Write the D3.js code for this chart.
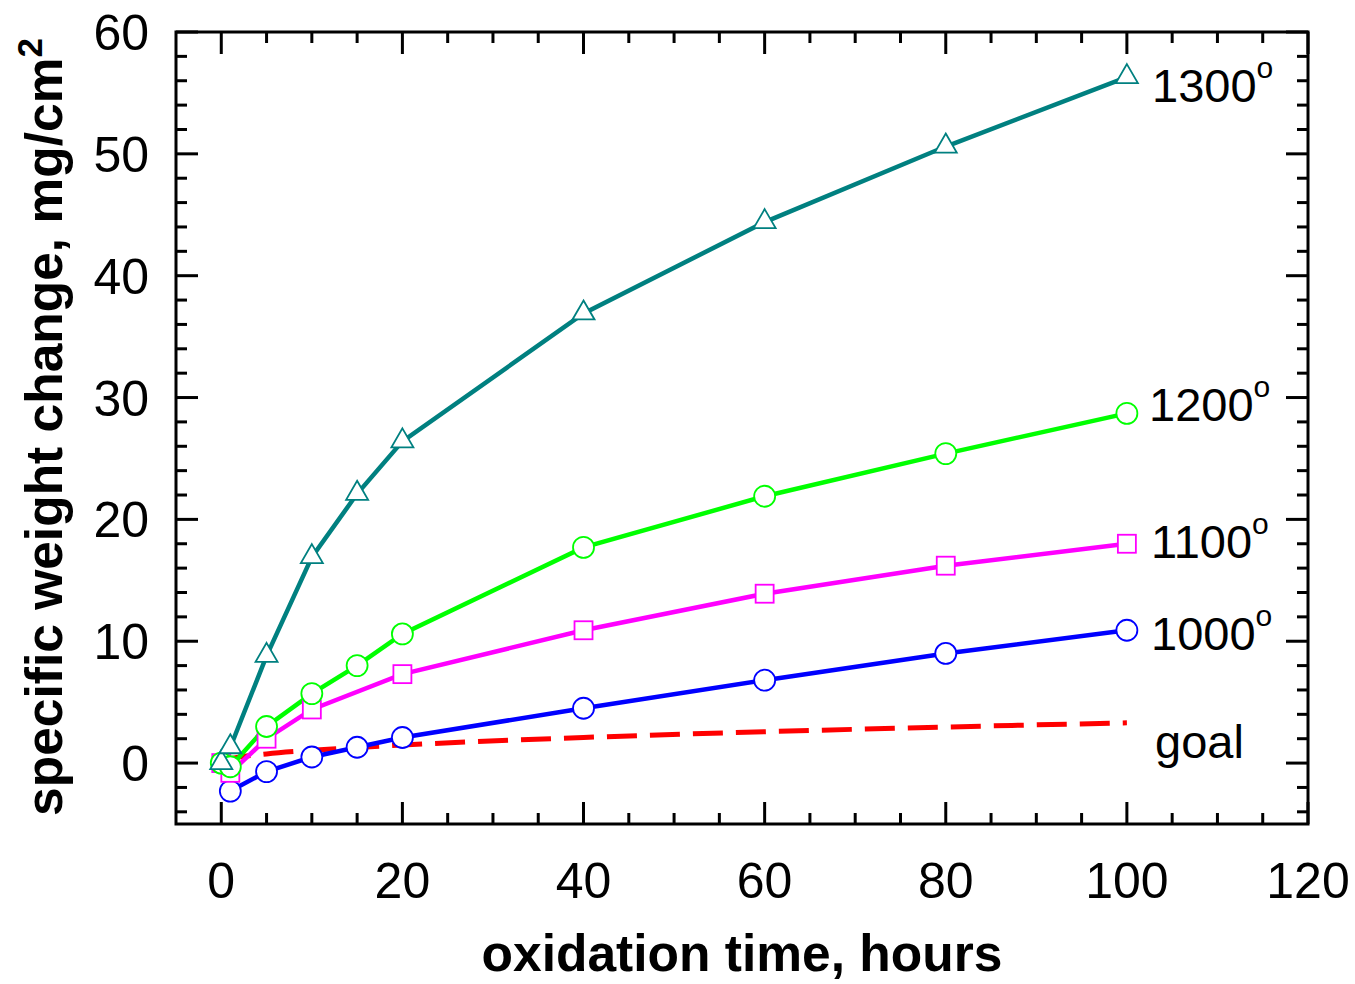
<!DOCTYPE html>
<html><head><meta charset="utf-8">
<script src="https://cdn.jsdelivr.net/npm/d3@7"></script>
<style>body{margin:0;background:#fff}svg{display:block}text{font-family:"Liberation Sans",Arial,sans-serif}</style>
</head><body>
<script>
const xTicks = [0,20,40,60,80,100,120];
const yTicks = [0,10,20,30,40,50,60];
const t1300 = [0,1,5,10,15,20,40,60,80,100];
const v1300 = [0,1.3,8.8,16.9,22.1,26.4,36.9,44.4,50.6,56.3];
const t1200 = [0,1,5,10,15,20,40,60,80,100];
const v1200 = [0,-0.3,3.0,5.7,8.0,10.6,17.7,21.9,25.4,28.7];
const t1100 = [0,1,5,10,20,40,60,80,100];
const v1100 = [0,-0.8,2.0,4.4,7.3,10.9,13.9,16.2,18.0];
const t1000 = [1,5,10,15,20,40,60,80,100];
const v1000 = [-2.3,-0.7,0.5,1.3,2.1,4.5,6.8,9.0,10.9];
const tGoal = [0,1,5,10,15,20,40,60,80,100];
const vGoal = [0.1,0.35,0.75,1.05,1.28,1.48,2.1,2.57,2.96,3.3];
const labelNames = ["1300","1200","1100","1000"];

const W=1355,H=984;
const L=176,R=1308,T=32,B=824;
const svg=d3.select("body").append("svg").attr("width",W).attr("height",H);
const x=d3.scaleLinear().domain([-5,120]).range([L,R]);
const y=d3.scaleLinear().domain([-5,60]).range([B,T]);

// ticks (inward on all sides)
const xMinor=d3.range(0,121,5), yMinor=d3.range(-4,61,2);
const tg=svg.append("g").attr("stroke","#000").attr("stroke-width",3);
xMinor.forEach(v=>{const len=(v%20===0)?22:11;
  tg.append("line").attr("x1",x(v)).attr("x2",x(v)).attr("y1",B).attr("y2",B-len);
  tg.append("line").attr("x1",x(v)).attr("x2",x(v)).attr("y1",T).attr("y2",T+len);});
yMinor.forEach(v=>{const len=(v%10===0)?22:11;
  tg.append("line").attr("y1",y(v)).attr("y2",y(v)).attr("x1",L).attr("x2",L+len);
  tg.append("line").attr("y1",y(v)).attr("y2",y(v)).attr("x1",R).attr("x2",R-len);});
svg.append("rect").attr("x",L).attr("y",T).attr("width",R-L).attr("height",B-T)
  .attr("fill","none").attr("stroke","#000").attr("stroke-width",3);

// tick labels
svg.append("g").selectAll("text").data(xTicks).join("text")
  .attr("x",d=>x(d)).attr("y",898).attr("text-anchor","middle")
  .attr("font-size",50).text(d=>d);
svg.append("g").selectAll("text").data(yTicks).join("text")
  .attr("x",149).attr("y",d=>y(d)+18).attr("text-anchor","end")
  .attr("font-size",50).text(d=>d);

// axis titles
svg.append("text").attr("x",742).attr("y",971).attr("text-anchor","middle")
  .attr("font-size",51.5).attr("font-weight","bold").text("oxidation time, hours");
const yt=svg.append("text").attr("transform","translate(62,427) rotate(-90)")
  .attr("text-anchor","middle").attr("font-size",51.5).attr("font-weight","bold");
yt.append("tspan").text("specific weight change, mg/cm");
yt.append("tspan").attr("dy",-20).attr("font-size",35).text("2");

const line=d3.line().x(d=>x(d[0])).y(d=>y(d[1]));
const zip=(a,b)=>a.map((v,i)=>[v,b[i]]);

// goal
svg.append("path").datum(zip(tGoal,vGoal)).attr("d",line.curve(d3.curveMonotoneX))
  .attr("fill","none").attr("stroke","#ff0000").attr("stroke-width",5).attr("stroke-dasharray","30,13");
line.curve(d3.curveLinear);

const series=[
 {t:t1300,v:v1300,c:"#008080",m:"tri"},
 {t:t1200,v:v1200,c:"#00ff00",m:"circ"},
 {t:t1100,v:v1100,c:"#ff00ff",m:"sq"},
 {t:t1000,v:v1000,c:"#0000ff",m:"circ"}];
series.slice().reverse().forEach(s=>{
  const d=zip(s.t,s.v);
  svg.append("path").datum(d).attr("d",line).attr("fill","none").attr("stroke",s.c).attr("stroke-width",4.5);
});
series.slice().reverse().forEach(s=>{
  const d=zip(s.t,s.v);
  const g=svg.append("g").attr("fill","#fff").attr("stroke",s.c).attr("stroke-width",1.8);
  d.forEach(p=>{
    const px=x(p[0]),py=y(p[1]);
    if(s.m==="circ") g.append("circle").attr("cx",px).attr("cy",py).attr("r",10.5);
    else if(s.m==="sq") g.append("rect").attr("x",px-9).attr("y",py-9).attr("width",18).attr("height",18);
    else g.append("path").attr("d",`M${px},${py-13}L${px+11},${py+6}L${px-11},${py+6}Z`);
  });
});

// labels
const labelPos=[[1152,102],[1149,421],[1151,558],[1151,650]];
labelNames.forEach((t,i)=>{
  const [lx,ly]=labelPos[i];
  const tx=svg.append("text").attr("x",lx).attr("y",ly).attr("font-size",47);
  tx.append("tspan").text(t);
  tx.append("tspan").attr("dy",-24).attr("font-size",30).text("o");
});
svg.append("text").attr("x",1155).attr("y",758).attr("font-size",47).text("goal");
</script>
</body></html>
